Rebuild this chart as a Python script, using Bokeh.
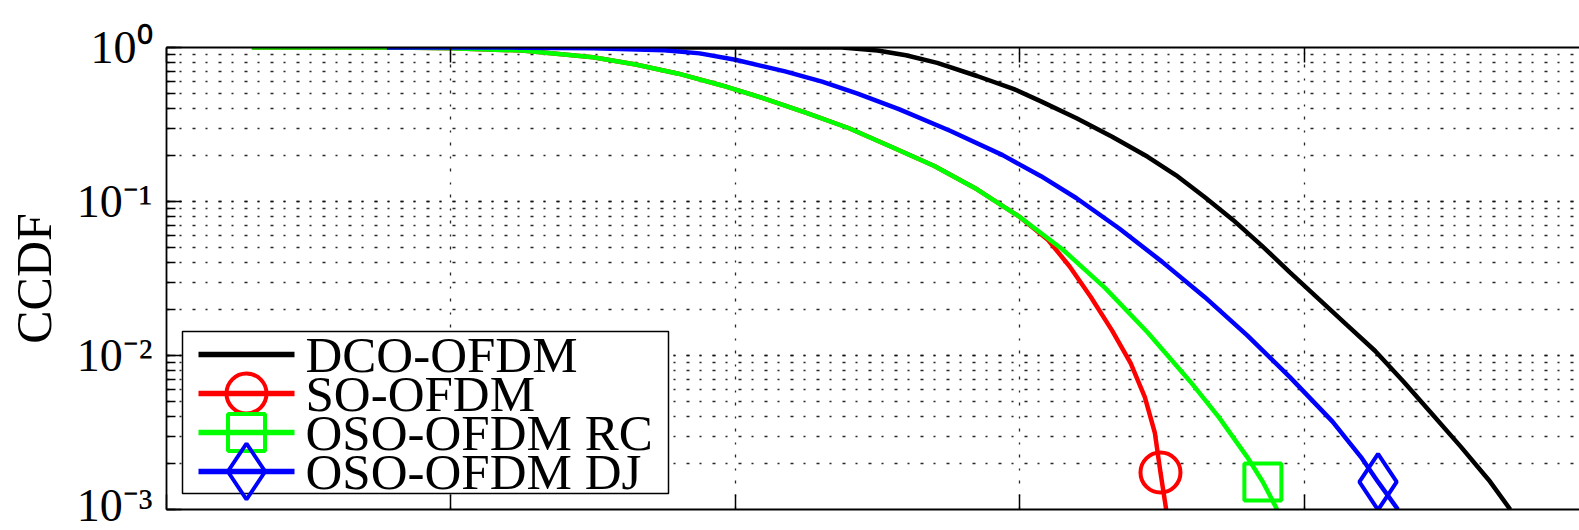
from bokeh.plotting import figure
from bokeh.models import (Range1d, LinearAxis, LogAxis, FixedTicker, LogTicker,
                          CustomJSTickFormatter)
from bokeh.core.properties import value
from bokeh.embed import file_html
from bokeh.resources import INLINE

# ---------------- data ----------------
dco_x = [1.55, 4.75, 5.00, 5.20, 5.42, 5.70, 5.96, 6.15, 6.40, 6.65, 6.90, 7.10,
         7.30, 7.50, 7.70, 7.90, 8.10, 8.30, 8.50, 8.70, 8.90, 9.10, 9.30, 9.45]
dco_y = [1.0, 1.0, 0.955, 0.891, 0.794, 0.653, 0.537, 0.447, 0.347, 0.263, 0.195,
         0.148, 0.107, 0.0759, 0.0519, 0.0347, 0.0234, 0.0158, 0.0107, 0.00676,
         0.00417, 0.00257, 0.00155, 0.0010]

so_x = [0.60, 1.60, 2.00, 2.50, 3.00, 3.30, 3.60, 3.90, 4.20, 4.50, 4.80, 5.10,
        5.40, 5.70, 6.00, 6.20, 6.35, 6.50, 6.65, 6.78, 6.88, 6.95, 6.99, 7.03]
so_y = [1.0, 1.0, 0.989, 0.955, 0.865, 0.776, 0.676, 0.569, 0.468, 0.376, 0.299,
        0.226, 0.170, 0.120, 0.0794, 0.0562, 0.0380, 0.0240, 0.0145, 0.00891,
        0.00537, 0.00316, 0.00174, 0.0010]

rc_x = [0.60, 1.60, 2.00, 2.50, 3.00, 3.30, 3.60, 3.90, 4.20, 4.50, 4.80, 5.10,
        5.40, 5.70, 6.00, 6.30, 6.60, 6.90, 7.20, 7.40, 7.60, 7.71, 7.81]
rc_y = [1.0, 1.0, 0.989, 0.955, 0.865, 0.776, 0.676, 0.569, 0.468, 0.376, 0.299,
        0.226, 0.170, 0.120, 0.0794, 0.0490, 0.0275, 0.0141, 0.00676, 0.00398,
        0.00219, 0.00151, 0.0010]

dj_x = [1.55, 2.50, 3.00, 3.50, 3.75, 4.00, 4.35, 4.61, 4.86, 5.15, 5.51, 5.88,
        6.15, 6.40, 6.70, 7.00, 7.30, 7.60, 7.90, 8.20, 8.40, 8.52, 8.66]
dj_y = [1.0, 0.998, 0.989, 0.959, 0.916, 0.832, 0.700, 0.600, 0.501, 0.398, 0.288,
        0.200, 0.146, 0.105, 0.0668, 0.0407, 0.0240, 0.0135, 0.00724, 0.00372,
        0.00219, 0.00151, 0.0010]

# one marker per curve (as in the picture)
so_mx, so_my = [6.99], [0.00174]
rc_mx, rc_my = [7.71], [0.00151]
dj_mx, dj_my = [8.52], [0.00151]

labels = ["DCO-OFDM", "SO-OFDM", "OSO-OFDM RC", "OSO-OFDM DJ"]
colors = ["black", "#ff0000", "#00ff00", "#0000ff"]
markers = [None, "circle", "square", "diamond"]

x_ticks = [0, 2, 4, 6, 8, 10]
x_grid = [2, 4, 6, 8]
y_ticks = [1.0, 0.1, 0.01, 0.001]
y_tick_labels = ["10\u2070", "10\u207b\u00b9", "10\u207b\u00b2", "10\u207b\u00b3"]

FONT = "Liberation Serif"

# ---------------- layout (pixels) ----------------
W, H = 1579, 530
FR_L, FR_T, FR_B = 166, 47, 509          # frame edges in the page
PX_PER_X = 142.2                          # pixels per x unit
PX_PER_DEC = (FR_B - FR_T) / 3.0          # pixels per decade
X_END = (W - FR_L) / PX_PER_X


def dx(px):
    return (px - FR_L) / PX_PER_X


def dy(py):
    return 10 ** (-(py - FR_T) / PX_PER_DEC)


p = figure(width=W, height=H, output_backend="svg", toolbar_location=None,
           y_axis_type="log", x_axis_location=None, y_axis_location=None,
           x_range=Range1d(0, X_END), y_range=Range1d(0.001, 1.0),
           min_border_left=FR_L, min_border_right=0, min_border_top=FR_T,
           min_border_bottom=H - FR_B)
p.outline_line_color = None
p.background_fill_color = "white"
p.border_fill_color = "white"

empty = CustomJSTickFormatter(code="return ''")
xt = FixedTicker(ticks=x_ticks, minor_ticks=[])
yt = LogTicker(num_minor_ticks=10)

for loc in ("below", "above"):
    ax = LinearAxis(ticker=xt, formatter=empty, major_tick_in=15, major_tick_out=0,
                    minor_tick_in=0, minor_tick_out=0, axis_line_width=1.8,
                    major_tick_line_width=1.5, major_label_standoff=0,
                    major_label_text_font_size="0px")
    p.add_layout(ax, loc)

yfmt = CustomJSTickFormatter(args=dict(vals=y_ticks, labs=y_tick_labels), code="""
    for (let i = 0; i < vals.length; i++) {
        if (Math.abs(Math.log10(vals[i]) - Math.log10(tick)) < 1e-6) return labs[i];
    }
    return '';
""")
yax = LogAxis(ticker=yt, formatter=yfmt, major_tick_in=15, major_tick_out=0,
              minor_tick_in=9, minor_tick_out=0, axis_line_width=1.8,
              major_tick_line_width=1.5, minor_tick_line_width=1.3,
              major_label_standoff=14, major_label_text_font=FONT,
              major_label_text_font_size="46px", major_label_text_color="black",
              axis_label="CCDF", axis_label_text_font=FONT,
              axis_label_text_font_size="50px", axis_label_text_font_style="normal",
              axis_label_text_color="black", axis_label_standoff=12)
p.add_layout(yax, "left")

GRID_DASH = "3 10 2 11"
p.xgrid.ticker = FixedTicker(ticks=x_grid)
p.ygrid.ticker = yt
for g in (p.xgrid, p.ygrid):
    g.grid_line_color = "#111111"
    g.grid_line_alpha = 0.9
    g.grid_line_dash = GRID_DASH
    g.grid_line_width = 1.3
p.ygrid.minor_grid_line_color = "#111111"
p.ygrid.minor_grid_line_alpha = 0.9
p.ygrid.minor_grid_line_dash = GRID_DASH
p.ygrid.minor_grid_line_width = 1.3

LW = 4.5
series = [(dco_x, dco_y), (so_x, so_y), (rc_x, rc_y), (dj_x, dj_y)]
for (xs, ys), c in zip(series, colors):
    p.line(xs, ys, line_color=c, line_width=LW)

mk_sizes = {"circle": 40, "square": 37, "diamond": 56}
for (mx, my), c, m in zip([(so_mx, so_my), (rc_mx, rc_my), (dj_mx, dj_my)],
                          colors[1:], markers[1:]):
    p.scatter(mx, my, marker=m, size=mk_sizes[m], fill_color=None,
              line_color=c, line_width=4)

# ---------------- legend box (MATLAB style, tight rows) ----------------
LEG_L, LEG_R, LEG_T, LEG_B = 182, 668, 331, 493
ROWS = [354, 393, 432, 471]
p.quad(left=[dx(LEG_L)], right=[dx(LEG_R)], top=[dy(LEG_T)], bottom=[dy(LEG_B)],
       fill_color="white", line_color="black", line_width=1.5)
for row, c, m in zip(ROWS, colors, markers):
    p.segment(x0=[dx(198)], x1=[dx(294)], y0=[dy(row)], y1=[dy(row)],
              line_color=c, line_width=LW + 1)
    if m is not None:
        p.scatter([dx(246)], [dy(row)], marker=m, size=mk_sizes[m],
                  fill_color=None, line_color=c, line_width=4)
p.text(x=[dx(305)] * 4, y=[dy(r) for r in ROWS], text=labels,
       text_font=value(FONT), text_font_size=value("51px"),
       text_baseline="middle", text_align="left", text_color="black")

open("out.html", "w").write(file_html(p, INLINE))
